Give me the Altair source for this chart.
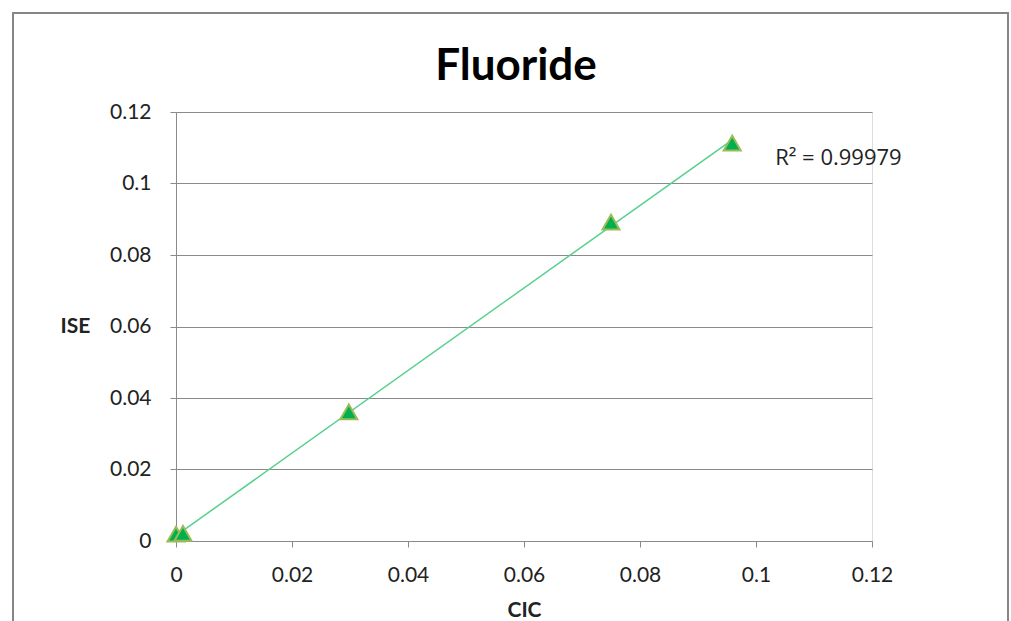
import altair as alt
import pandas as pd

cic = [0.0, 0.0012, 0.0298, 0.075, 0.0959]
ise = [0.0019, 0.0021, 0.0361, 0.0892, 0.1113]
ticks = [0, 0.02, 0.04, 0.06, 0.08, 0.1, 0.12]
title_text = ["Fluoride"]
r2_label = ["R\u00b2 = 0.99979"]
r2_pos_x = [0.1033]
r2_pos_y = [0.1071]

df = pd.DataFrame({"cic": cic, "ise": ise})
lab = pd.DataFrame({"x": r2_pos_x, "y": r2_pos_y, "t": r2_label})

FONT = "Lato"
GRID = "#8a8a8a"

xsc = alt.Scale(domain=[0, 0.12], nice=False, zero=False)
ysc = alt.Scale(domain=[0, 0.12], nice=False, zero=False)

xax = alt.Axis(values=ticks, title="CIC", grid=False, tickSize=6, tickColor=GRID,
               domainColor=GRID, labelFontSize=21, labelFont=FONT, labelColor="#222",
               labelPadding=17, titleFont=FONT, titleFontSize=21, titleFontWeight="bold",
               titleColor="#222", titlePadding=14, labelFlush=False,
               labelExpr="datum.value == 0 ? '0' : format(datum.value, '.2~f')")
yax = alt.Axis(values=ticks, title="ISE", grid=True, gridColor=GRID, tickSize=6,
               tickColor=GRID, domainColor=GRID, labelFontSize=21, labelFont=FONT,
               labelColor="#222", labelPadding=19, titleFont=FONT, titleFontSize=21,
               titleFontWeight="bold", titleColor="#222", titleAngle=0,
               titleX=-101, titleY=214, titleAlign="center", titleBaseline="middle",
               labelExpr="datum.value == 0 ? '0' : format(datum.value, '.2~f')")

base = alt.Chart(df)

frame = alt.Chart(pd.DataFrame({"a": [0]})).mark_rect(
    fill=None, stroke="#868686", strokeWidth=2, clip=False
).encode(x=alt.value(-163), x2=alt.value(832), y=alt.value(-99), y2=alt.value(540))

ttl = alt.Chart(pd.DataFrame({"t": title_text})).mark_text(
    fontSize=44, font=FONT, fontWeight="bold", color="#000",
    align="center", baseline="alphabetic"
).encode(x=alt.value(340), y=alt.value(-32), text="t:N")

trend = base.transform_regression("cic", "ise").mark_line(
    color="#55d18e", strokeWidth=1.5
).encode(x=alt.X("cic:Q", scale=xsc, axis=xax), y=alt.Y("ise:Q", scale=ysc, axis=yax))

pts = base.mark_point(
    shape="triangle-up", filled=True, fill="#00b04f", stroke="#9bbb59",
    strokeWidth=2, size=290, opacity=1
).encode(x=alt.X("cic:Q", scale=xsc), y=alt.Y("ise:Q", scale=ysc))

txt = alt.Chart(lab).mark_text(
    align="left", baseline="middle", fontSize=22, font="Open Sans", color="#222"
).encode(x=alt.X("x:Q", scale=xsc), y=alt.Y("y:Q", scale=ysc), text="t:N")

chart = alt.layer(frame, ttl, trend, pts, txt).properties(
    width=696, height=429,
    padding={"left": 176, "top": 112, "right": 139, "bottom": 80},
    autosize=alt.AutoSizeParams(type="none"),
).configure_view(stroke=None).configure(background="white")

chart.save("out.html", embed_options={"renderer": "svg", "actions": False})
